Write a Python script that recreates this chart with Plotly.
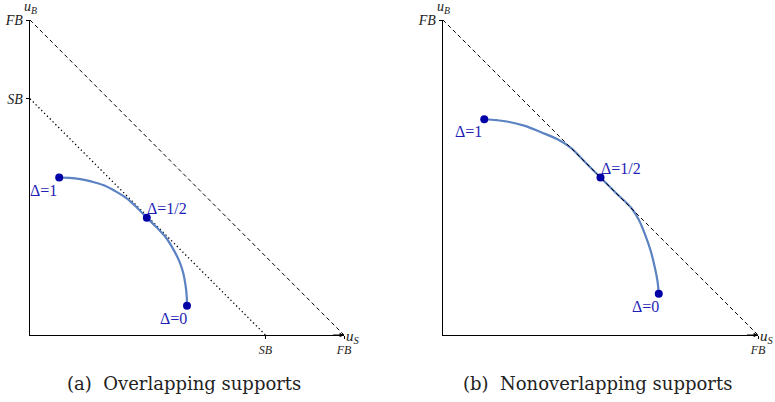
import plotly.graph_objects as go

# ---------------- data ----------------
FB = 1.0
SB = 0.75
tick_vals = [SB, FB]
tick_text = ["SB", "FB"]

# (a) overlapping supports: frontier
left_curve_x = [0.093, 0.125, 0.160, 0.197, 0.233, 0.271, 0.308, 0.341, 0.372, 0.404, 0.434, 0.457, 0.476, 0.488, 0.495, 0.499, 0.500]
left_curve_y = [0.500, 0.499, 0.495, 0.487, 0.476, 0.457, 0.434, 0.404, 0.372, 0.341, 0.308, 0.271, 0.233, 0.197, 0.160, 0.125, 0.093]
left_dot_x = [0.093, 0.372, 0.500]
left_dot_y = [0.500, 0.372, 0.093]

# (b) nonoverlapping supports
right_curve_x = [0.131, 0.170, 0.207, 0.260, 0.313, 0.362, 0.405, 0.450, 0.500, 0.550, 0.598, 0.622, 0.641, 0.660, 0.673, 0.681, 0.685]
right_curve_y = [0.685, 0.682, 0.677, 0.664, 0.643, 0.622, 0.595, 0.550, 0.500, 0.450, 0.403, 0.365, 0.320, 0.265, 0.212, 0.170, 0.131]
right_dot_x = [0.131, 0.500, 0.685]
right_dot_y = [0.685, 0.500, 0.131]

dot_labels = ["Δ=1", "Δ=1/2", "Δ=0"]
captions = ["(a)  Overlapping supports", "(b)  Nonoverlapping supports"]

# ---------------- figure ----------------
W, H = 775, 402
CURVE = "#5b82c2"
DOT = "#0000a6"
LAB = "#1f1fb8"
SERIF = "Liberation Serif"

fig = go.Figure()

panels = [
    dict(xa="x", ya="y", cx=left_curve_x, cy=left_curve_y, dx=left_dot_x, dy=left_dot_y, sb=True),
    dict(xa="x2", ya="y2", cx=right_curve_x, cy=right_curve_y, dx=right_dot_x, dy=right_dot_y, sb=False),
]

for p in panels:
    if p["sb"]:
        fig.add_trace(go.Scatter(x=[0, SB], y=[SB, 0], mode="lines", xaxis=p["xa"], yaxis=p["ya"],
                                 line=dict(color="black", width=1.3, dash="1.3px,2.7px"), hoverinfo="skip"))
    fig.add_trace(go.Scatter(x=p["cx"], y=p["cy"], mode="lines", xaxis=p["xa"], yaxis=p["ya"],
                             line=dict(color=CURVE, width=2.2, shape="spline", smoothing=1.0),
                             hoverinfo="skip"))
    fig.add_trace(go.Scatter(x=[0, FB], y=[FB, 0], mode="lines", xaxis=p["xa"], yaxis=p["ya"],
                             line=dict(color="black", width=1, dash="4px,3px"), hoverinfo="skip"))
    fig.add_trace(go.Scatter(x=p["dx"], y=p["dy"], mode="markers", xaxis=p["xa"], yaxis=p["ya"],
                             marker=dict(color=DOT, size=8), hoverinfo="skip", cliponaxis=False))

# axes
x_doms = [[30 / W, 344 / W], [443 / W, 758 / W]]
y_dom = [1 - 335 / H, 1 - 20 / H]

ax_common = dict(range=[0, 1.0], showgrid=False, zeroline=False, showline=True,
                 linecolor="black", linewidth=1.3, ticks="outside", ticklen=3,
                 tickcolor="black", tickwidth=1, automargin=False, fixedrange=True)

layout = dict(width=W, height=H, margin=dict(l=0, r=0, t=0, b=0, autoexpand=False),
              paper_bgcolor="white", plot_bgcolor="white", showlegend=False)

for i, suf in enumerate(["", "2"]):
    xv = tick_vals if i == 0 else [FB]
    xt = tick_text if i == 0 else ["FB"]
    yv = tick_vals if i == 0 else [FB]
    yt = tick_text if i == 0 else ["FB"]
    layout["xaxis" + suf] = dict(ax_common, domain=x_doms[i], anchor="y" + suf,
                                 tickvals=xv, ticktext=["<i>%s</i>" % t for t in xt],
                                 tickfont=dict(family=SERIF, size=12, color="#222"))
    layout["yaxis" + suf] = dict(ax_common, domain=y_dom, anchor="x" + suf,
                                 tickvals=yv, ticktext=["<i>%s</i>" % t for t in yt],
                                 tickfont=dict(family=SERIF, size=14, color="#222"))

fig.update_layout(**layout)

ann = []
for suf in ["", "2"]:
    xr = "x" + suf
    yr = "y" + suf
    # x-axis arrow head
    ann.append(dict(x=1.0, y=0, ax=0.96, ay=0, xref=xr, yref=yr, axref=xr, ayref=yr,
                    showarrow=True, arrowhead=2, arrowsize=0.8, arrowwidth=1.1,
                    arrowcolor="black", text=""))
    # axis titles
    ann.append(dict(x=0, y=1.0, xref=xr, yref=yr, yshift=2, yanchor="bottom", showarrow=False,
                    text="<i>u</i><sub><i>B</i></sub>", font=dict(family=SERIF, size=14, color="#222"),
                    xanchor="right", xshift=9))
    ann.append(dict(x=1.0, y=0, xref=xr, yref=yr, xanchor="left", yanchor="middle", xshift=0, yshift=-2,
                    showarrow=False,
                    text="<i>u</i><sub><i>S</i></sub>",
                    font=dict(family=SERIF, size=15, color="#222")))

# dot labels
for p in panels:
    xr, yr = p["xa"], p["ya"]
    specs = [("right", "top", 0, -2), ("left", "bottom", -2, -1), ("right", "top", 2, -2)]
    for k in range(3):
        xa, ya, xs, ys = specs[k]
        ann.append(dict(x=p["dx"][k], y=p["dy"][k], xref=xr, yref=yr, text=dot_labels[k],
                        xanchor=xa, yanchor=ya, xshift=xs, yshift=ys, showarrow=False,
                        font=dict(family=SERIF, size=16, color=LAB)))

# captions
for i, c in enumerate(captions):
    ann.append(dict(x=[184 / W, 597 / W][i], y=1 - 383 / H, xref="paper", yref="paper",
                    text=c, showarrow=False, xanchor="center", yanchor="middle",
                    font=dict(family="DejaVu Serif", size=18, color="#222")))

fig.update_layout(annotations=ann)
fig.write_html("out.html", config=dict(displayModeBar=False, staticPlot=True),
               post_script="document.body.style.margin='0';document.body.style.overflow='hidden';")
